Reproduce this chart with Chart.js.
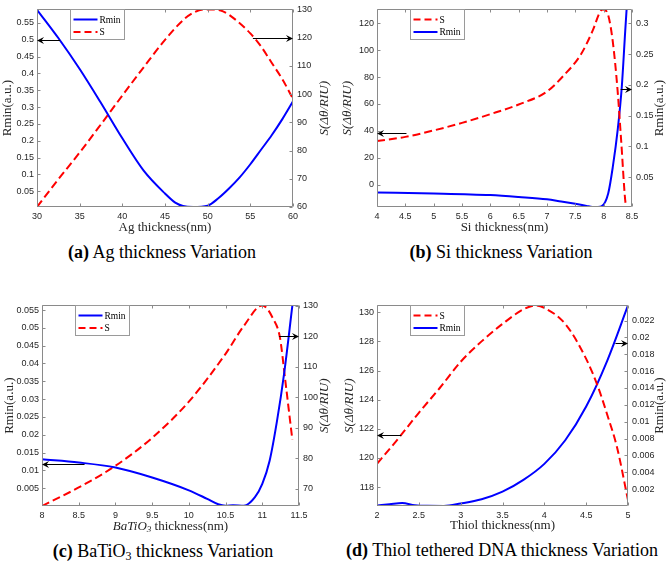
<!DOCTYPE html>
<html><head><meta charset="utf-8">
<script src="https://cdn.jsdelivr.net/npm/chart.js@4/dist/chart.umd.min.js"></script>
<style>
body{margin:0;width:669px;height:562px;background:#fff;position:relative;overflow:hidden}
.cv{position:absolute}
.cap{position:absolute;font-family:"Liberation Serif",serif;font-size:18px;white-space:nowrap;transform:translate(-50%,-50%);color:#000;line-height:1}
.cap sub{font-size:12px;vertical-align:-3px;line-height:0}
</style></head><body>
<div class="cv" style="left:0;top:0"><canvas id="ca" width="335" height="240"></canvas></div>
<div class="cv" style="left:335px;top:0"><canvas id="cb" width="334" height="240"></canvas></div>
<div class="cv" style="left:0;top:296px"><canvas id="cc" width="335" height="244"></canvas></div>
<div class="cv" style="left:335px;top:296px"><canvas id="cd" width="334" height="244"></canvas></div>
<div class="cap" style="left:162px;top:252px"><b>(a)</b> Ag thickness Variation</div>
<div class="cap" style="left:501px;top:252px"><b>(b)</b> Si thickness Variation</div>
<div class="cap" style="left:163px;top:551px"><b>(c)</b> BaTiO<sub>3</sub> thickness Variation</div>
<div class="cap" style="left:502px;top:550px"><b>(d)</b> Thiol tethered DNA thickness Variation</div>
<script>
// ---------- (a) Ag ----------
const agRminX = [30, 32.5, 35, 37.5, 40, 42.5, 45, 46.2, 47.1, 48.3, 50, 51.25, 52.5, 53.75, 55, 56.25, 57.5, 58.75, 60];
const agRmin  = [0.589, 0.505, 0.413, 0.312, 0.207, 0.111, 0.043, 0.016, 0.006, 0.003, 0.007, 0.029, 0.058, 0.091, 0.13, 0.173, 0.216, 0.264, 0.317];
const agSX = [30, 32.5, 35, 37.5, 40, 42.5, 45, 47.3, 48.5, 49.7, 50.8, 51.8, 52.6, 55, 56.25, 57.5, 58.75, 60];
const agS  = [60, 69.8, 79.3, 89.3, 99.5, 109.5, 119.2, 126.7, 129.1, 130, 130, 129.3, 127.9, 121.5, 116.9, 111.1, 105.3, 98.3];
const agXTicks = [30, 35, 40, 45, 50, 55, 60];
const agRminTicks = [0.05, 0.1, 0.15, 0.2, 0.25, 0.3, 0.35, 0.4, 0.45, 0.5, 0.55];
const agSTicks = [60, 70, 80, 90, 100, 110, 120, 130];

// ---------- (b) Si ----------
const siSX = [4, 4.5, 5, 5.5, 6, 6.5, 7, 7.3, 7.6, 7.8, 7.95, 7.99, 8.08, 8.16, 8.24, 8.31, 8.38, 8.4];
const siS  = [32.4, 35.5, 40.3, 45.9, 52.4, 59.6, 69.3, 81.4, 97, 114, 129.6, 130.4, 126, 106.7, 73, 32, -11.6, -16.4];
const siRminX = [4, 5, 6, 6.5, 7, 7.25, 7.5, 7.7, 7.8, 7.9, 7.96, 8.08, 8.16, 8.25, 8.32, 8.38, 8.41];
const siRmin  = [0.0253, 0.0237, 0.021, 0.018, 0.0142, 0.0105, 0.0068, 0.0035, 0.0019, 0.0017, 0.0026, 0.0237, 0.066, 0.129, 0.197, 0.287, 0.33];
const siXTicks = [4, 4.5, 5, 5.5, 6, 6.5, 7, 7.5, 8, 8.5];
const siSTicks = [0, 20, 40, 60, 80, 100, 120];
const siRminTicks = [0.05, 0.1, 0.15, 0.2, 0.25, 0.3];

// ---------- (c) BaTiO3 ----------
const btRminX = [8, 8.5, 9, 9.5, 10, 10.25, 10.4, 10.5, 10.6, 10.75, 10.9, 11, 11.1, 11.2, 11.3, 11.41];
const btRmin  = [0.0131, 0.0122, 0.0108, 0.008, 0.0044, 0.002, 0.0005, 0.0001, 0.0002, 0.0001, 0.0025, 0.0062, 0.0127, 0.0238, 0.0376, 0.0563];
const btSX = [8, 8.5, 9, 9.5, 10, 10.5, 10.75, 11, 11.15, 11.24, 11.31, 11.38, 11.41];
const btS  = [64.3, 70.4, 77.5, 86.7, 98.6, 114.3, 123.5, 130.2, 125.7, 119.7, 106.2, 92, 86];
const btXTicks = [8, 8.5, 9, 9.5, 10, 10.5, 11, 11.5];
const btRminTicks = [0.005, 0.01, 0.015, 0.02, 0.025, 0.03, 0.035, 0.04, 0.045, 0.05, 0.055];
const btSTicks = [70, 80, 90, 100, 110, 120, 130];

// ---------- (d) Thiol ----------
const thSX = [2, 2.25, 2.5, 2.75, 3, 3.25, 3.5, 3.75, 3.9, 4, 4.25, 4.5, 4.64, 4.75, 4.87, 5];
const thS  = [119.6, 121.3, 123.1, 124.8, 126.6, 128.0, 129.2, 130.2, 130.47, 130.3, 129.2, 126.8, 124.9, 123.0, 120.7, 117.1];
const thRminX = [2, 2.15, 2.3, 2.45, 2.6, 2.8, 3, 3.25, 3.5, 3.75, 4, 4.25, 4.5, 4.75, 5];
const thRmin  = [0.00005, 0.0002, 0.00035, 0.0001, 0.00002, 0.00001, 0.0003, 0.0008, 0.0017, 0.0031, 0.005, 0.0078, 0.0118, 0.0172, 0.0238];
const thXTicks = [2, 2.5, 3, 3.5, 4, 4.5, 5];
const thSTicks = [118, 120, 122, 124, 126, 128, 130];
const thRminTicks = [0.002, 0.004, 0.006, 0.008, 0.01, 0.012, 0.014, 0.016, 0.018, 0.02, 0.022];

// ---------- labels ----------
const LBL_RMIN = 'Rmin';
const LBL_S = 'S';
const TITLE_RMIN = 'Rmin(a.u.)';
const TITLE_S = 'S(\u0394\u03B8/RIU)';
const XT_A = 'Ag thickness(nm)';
const XT_B = 'Si thickness(nm)';
const XT_C = [['BaTiO', 'i'], ['3', 'sub'], [' thickness(nm)', 'n']];
const XT_D = 'Thiol thickness(nm)';

const AXIS_COLOR = '#8a8a8a';
const TICK_COLOR = '#262626';
const BLUE = '#0000ff', RED = '#ff0000';
const SERIF = '"Liberation Serif", serif';

function fmt(v){ return String(+v.toFixed(6)); }
function pts(xs, ys){ return xs.map((x,i)=>({x:x, y:ys[i]})); }

function yAxis(pos, min, max, ticks, w){
  return {
    type:'linear', position:pos, min:min, max:max,
    grid:{display:false, drawTicks:false}, border:{display:false},
    afterFit: s => { s.width = w; },
    afterBuildTicks: s => { s.ticks = ticks.map(v=>({value:v})); },
    ticks:{ font:{family:'"Liberation Sans", sans-serif', size:9}, color:TICK_COLOR, padding: pos==='left'?3:4, autoSkip:false, callback: v=>fmt(v) }
  };
}
function xAxis(min, max, ticks, h){
  return {
    type:'linear', position:'bottom', min:min, max:max,
    grid:{display:false, drawTicks:false}, border:{display:false},
    afterFit: s => { s.height = h; },
    afterBuildTicks: s => { s.ticks = ticks.map(v=>({value:v})); },
    ticks:{ font:{family:'"Liberation Sans", sans-serif', size:9}, color:TICK_COLOR, padding:4, autoSkip:false, maxRotation:0, callback: v=>fmt(v) }
  };
}
function ds(label, data, axis, color, dashed){
  return { label:label, data:data, yAxisID:axis, borderColor:color, backgroundColor:color,
    borderWidth:2, pointRadius:0, fill:false, cubicInterpolationMode:'monotone',
    borderDash: dashed ? [8,4] : [] , isDashed: dashed };
}

const decor = {
  id:'decor',
  afterDraw(chart, args, o){
    const ctx = chart.ctx, ca = chart.chartArea;
    const xs = chart.scales.x, yl = chart.scales.yL, yr = chart.scales.yR;
    ctx.save();
    ctx.strokeStyle = AXIS_COLOR; ctx.lineWidth = 1; ctx.setLineDash([]);
    const L = Math.round(ca.left)+0.5, R = Math.round(ca.right)-0.5, T = Math.round(ca.top)+0.5, B = Math.round(ca.bottom)-0.5;
    ctx.beginPath();
    ctx.rect(L, T, R-L, B-T);
    xs.ticks.forEach(t=>{ const p = Math.round(xs.getPixelForValue(t.value))+0.5; ctx.moveTo(p,B); ctx.lineTo(p,B-3); ctx.moveTo(p,T); ctx.lineTo(p,T+3); });
    yl.ticks.forEach(t=>{ const p = Math.round(yl.getPixelForValue(t.value))+0.5; ctx.moveTo(L,p); ctx.lineTo(L+3,p); });
    yr.ticks.forEach(t=>{ const p = Math.round(yr.getPixelForValue(t.value))+0.5; ctx.moveTo(R,p); ctx.lineTo(R-3,p); });
    ctx.stroke();

    // arrows
    ctx.strokeStyle = '#000'; ctx.fillStyle = '#000'; ctx.lineWidth = 1;
    o.arrows.forEach(a=>{
      const sc = chart.scales[a.axis];
      const y = Math.round(sc.getPixelForValue(a.y))+0.5;
      const x1 = xs.getPixelForValue(a.x1), x2 = xs.getPixelForValue(a.x2);
      const d = x2 > x1 ? 1 : -1;
      ctx.beginPath(); ctx.moveTo(x1,y); ctx.lineTo(x2 - d*3,y); ctx.stroke();
      ctx.beginPath(); ctx.moveTo(x2,y); ctx.lineTo(x2-d*7,y-3.5); ctx.lineTo(x2-d*4.5,y); ctx.lineTo(x2-d*7,y+3.5); ctx.closePath(); ctx.fill();
    });

    // legend
    const bx = Math.round(ca.left)+33.5, by = Math.round(ca.top)+0.5, bw = 54, bh = 30;
    ctx.fillStyle = '#fff'; ctx.fillRect(bx, by, bw, bh);
    ctx.strokeStyle = '#9a9a9a'; ctx.strokeRect(bx, by, bw, bh);
    ctx.font = '9.5px ' + SERIF; ctx.textBaseline = 'middle'; ctx.textAlign = 'left';
    chart.data.datasets.forEach((d,i)=>{
      const ly = by + 10 + i*12.5;
      ctx.strokeStyle = d.borderColor; ctx.lineWidth = 2;
      ctx.setLineDash(d.isDashed ? [7,4] : []);
      ctx.beginPath(); ctx.moveTo(bx+3, ly); ctx.lineTo(bx+27, ly); ctx.stroke();
      ctx.setLineDash([]);
      ctx.fillStyle = '#000'; ctx.fillText(d.label, bx+29, ly+0.5);
    });

    // axis titles
    const cy = (ca.top+ca.bottom)/2;
    function vtitle(txt, x){
      ctx.save(); ctx.translate(x, cy); ctx.rotate(-Math.PI/2);
      ctx.font = (txt===TITLE_S ? 'italic ' : '') + '13px ' + SERIF;
      ctx.fillStyle = '#262626'; ctx.textAlign = 'center'; ctx.textBaseline = 'middle';
      ctx.fillText(txt, 0, 0); ctx.restore();
    }
    vtitle(o.leftTitle, o.leftX);
    vtitle(o.rightTitle, o.rightX);
    const cx = (ca.left+ca.right)/2;
    ctx.fillStyle = '#262626'; ctx.textBaseline = 'middle';
    if (typeof o.xTitle === 'string') {
      ctx.font = '13px ' + SERIF; ctx.textAlign = 'center';
      ctx.fillText(o.xTitle, cx, o.xY);
    } else {
      const fonts = {i:'italic 13px '+SERIF, sub:'italic 9px '+SERIF, n:'13px '+SERIF};
      let tot = 0;
      o.xTitle.forEach(p=>{ ctx.font = fonts[p[1]]; tot += ctx.measureText(p[0]).width; });
      let x = cx - tot/2; ctx.textAlign = 'left';
      o.xTitle.forEach(p=>{ ctx.font = fonts[p[1]]; ctx.fillText(p[0], x, o.xY + (p[1]==='sub'?3:0)); x += ctx.measureText(p[0]).width; });
    }
    ctx.restore();
  }
};

function make(id, datasets, scales, padTop, decorOpts){
  new Chart(document.getElementById(id), {
    type:'line',
    data:{datasets:datasets},
    options:{
      responsive:false, animation:false, devicePixelRatio:1,
      layout:{padding:{top:padTop, left:0, right:0, bottom:0}},
      plugins:{legend:{display:false}, tooltip:{enabled:false}, decor:decorOpts},
      scales:scales
    },
    plugins:[decor]
  });
}

make('ca', [
    ds(LBL_RMIN, pts(agRminX, agRmin), 'yL', BLUE, false),
    ds(LBL_S, pts(agSX, agS), 'yR', RED, true)
  ], {
    x: xAxis(30, 60, agXTicks, 33),
    yL: yAxis('left', 0.003, 0.59, agRminTicks, 37),
    yR: yAxis('right', 60, 130, agSTicks, 42)
  }, 4, {
    leftTitle:TITLE_RMIN, rightTitle:TITLE_S, leftX:8, rightX:325, xTitle:XT_A, xY:228,
    arrows:[{axis:'yL', y:0.5, x1:32.7, x2:30}, {axis:'yR', y:120, x1:55.3, x2:60}]
  });

make('cb', [
    ds(LBL_S, pts(siSX, siS), 'yL', RED, true),
    ds(LBL_RMIN, pts(siRminX, siRmin), 'yR', BLUE, false)
  ], {
    x: xAxis(4, 8.5, siXTicks, 33),
    yL: yAxis('left', -16.7, 130.4, siSTicks, 42),
    yR: yAxis('right', 0.0017, 0.3226, siRminTicks, 37)
  }, 4, {
    leftTitle:TITLE_S, rightTitle:TITLE_RMIN, leftX:13, rightX:325, xTitle:XT_B, xY:228,
    arrows:[{axis:'yL', y:38.6, x1:4.52, x2:4}, {axis:'yR', y:0.193, x1:8.3, x2:8.5}]
  });

make('cc', [
    ds(LBL_RMIN, pts(btRminX, btRmin), 'yL', BLUE, false),
    ds(LBL_S, pts(btSX, btS), 'yR', RED, true)
  ], {
    x: xAxis(8, 11.5, btXTicks, 34),
    yL: yAxis('left', 0, 0.0563, btRminTicks, 42),
    yR: yAxis('right', 64.3, 130.2, btSTicks, 36)
  }, 7, {
    leftTitle:TITLE_RMIN, rightTitle:TITLE_S, leftX:10, rightX:325, xTitle:XT_C, xY:231,
    arrows:[{axis:'yL', y:0.0117, x1:8.58, x2:8}, {axis:'yR', y:120.25, x1:11.23, x2:11.5}]
  });

make('cd', [
    ds(LBL_S, pts(thSX, thS), 'yL', RED, true),
    ds(LBL_RMIN, pts(thRminX, thRmin), 'yR', BLUE, false)
  ], {
    x: xAxis(2, 5, thXTicks, 34),
    yL: yAxis('left', 116.7, 130.47, thSTicks, 42),
    yR: yAxis('right', 0, 0.0238, thRminTicks, 41)
  }, 6, {
    leftTitle:TITLE_S, rightTitle:TITLE_RMIN, leftX:15, rightX:325, xTitle:XT_D, xY:230,
    arrows:[{axis:'yL', y:121.55, x1:2.29, x2:2}, {axis:'yR', y:0.0193, x1:4.85, x2:5}]
  });
</script>
</body></html>
